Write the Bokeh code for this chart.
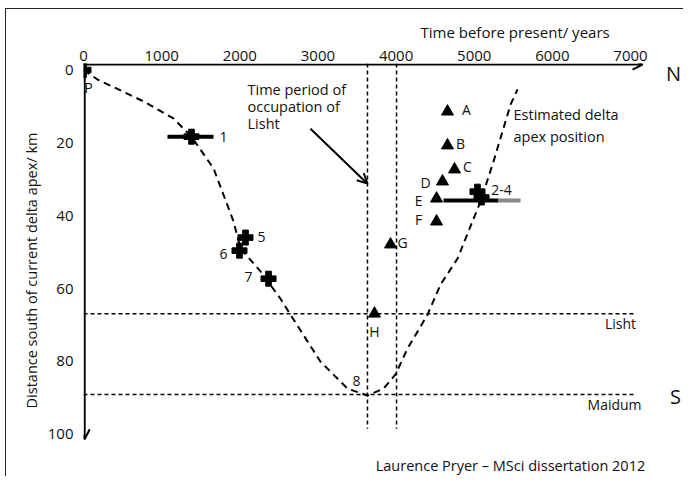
from bokeh.plotting import figure
from bokeh.models import Range1d, Arrow, OpenHead, Label, ColumnDataSource, FixedTicker, InlineStyleSheet
from bokeh.core.properties import value
from bokeh.embed import file_html
from bokeh.resources import INLINE

FONT = "Open Sans"
INK = "#111111"

# ---------------- data ----------------
x_ticks = [0, 1000, 2000, 3000, 4000, 5000, 6000, 7000]
y_ticks = [0, 20, 40, 60, 80, 100]

# estimated delta apex position (years BP, km south of current apex)
curve_years = [0, 179, 768, 1152, 1382, 1664, 1920, 2009, 2265, 2521, 2649, 3033,
               3379, 3634, 3839, 3993, 4146, 4402, 4569, 4786, 5081, 5247, 5465, 5554]
curve_km = [0, 2.6, 8.6, 13.3, 18.3, 27.0, 41.6, 49.0, 55.3, 62.8, 67.2, 80.1,
            87.5, 89.4, 87.5, 83.6, 76.5, 67.2, 58.9, 51.8, 36.1, 25.1, 9.5, 5.3]

# dated cores (crosses)
core_names = ["P", "1", "5", "6", "7", "2-4"]
core_years = [0, 1382, 2073, 1996, 2368, 5042]
core_km = [0, 18.3, 46.0, 49.6, 57.3, 33.4]
core_extra_years = [5093]
core_extra_km = [35.0]

# age ranges (error bars)
err_years_lo = [1075, 4607]
err_years_hi = [1664, 5311]
err_km = [18.3, 35.8]
err_uncertain_lo = [5311]
err_uncertain_hi = [5593]
err_uncertain_km = [35.8]

# archaeological sites (triangles)
site_names = ["A", "B", "C", "D", "E", "F", "G", "H"]
site_years = [4658, 4658, 4748, 4594, 4518, 4518, 3929, 3724]
site_km = [11.4, 20.7, 27.3, 30.6, 35.3, 41.6, 47.9, 66.9]

occupation_years = [3634, 4006]
lisht_km = 66.9
maidum_km = 89.1

# ---------------- figure ----------------
p = figure(width=678, height=468,
           x_range=Range1d(0, 7691), y_range=Range1d(111.9, -1.8),
           x_axis_location="above", toolbar_location=None, output_backend="svg",
           min_border_left=77, min_border_top=54, min_border_right=0, min_border_bottom=0,
           title="Time before present/ years")
p.outline_line_color = None
p.xgrid.visible = False
p.ygrid.visible = False
p.background_fill_color = "white"
p.border_fill_color = "white"
p.stylesheets = [InlineStyleSheet(css=":host { border-left: 1px solid #222; border-top: 1px solid #222; margin-left: 5px; margin-top: 8px; }")]

p.title.align = "left"
p.title.offset = 337
p.title.text_font = FONT
p.title.text_font_size = "15px"
p.title.text_font_style = "normal"
p.title.text_color = INK
p.title.standoff = 12

for ax in (p.xaxis, p.yaxis):
    ax.axis_line_color = None
    ax.major_tick_line_color = None
    ax.minor_tick_line_color = None
    ax.major_tick_out = 0
    ax.major_tick_in = 0
    ax.minor_tick_out = 0
    ax.minor_tick_in = 0
    ax.major_label_text_font = FONT
    ax.major_label_text_font_size = "15px"
    ax.major_label_text_color = INK

p.xaxis.ticker = FixedTicker(ticks=x_ticks)
p.yaxis.ticker = FixedTicker(ticks=y_ticks)
p.xaxis.major_label_standoff = 3
p.yaxis.major_label_standoff = 10
p.yaxis.axis_label = "Distance south of current delta apex/ km"
p.yaxis.axis_label_text_font = FONT
p.yaxis.axis_label_text_font_style = "normal"
p.yaxis.axis_label_text_font_size = "14.5px"
p.yaxis.axis_label_text_color = INK
p.yaxis.axis_label_standoff = 4

# axis arrows
p.add_layout(Arrow(x_start=0, y_start=-1.5, x_end=7154, y_end=-1.5, line_width=2,
                   line_color="black", end=OpenHead(size=10, line_width=2, line_color="black")))
p.add_layout(Arrow(x_start=15, y_start=-1.8, x_end=15, y_end=101.4, line_width=2,
                   line_color="black", end=OpenHead(size=10, line_width=2, line_color="black")))

# dashed reference lines
p.segment(x0=occupation_years, y0=[-1.8, -1.8], x1=occupation_years, y1=[98.5, 98.5],
          line_color="black", line_width=1.5, line_dash="4 3")
p.segment(x0=[0, 0], y0=[lisht_km, maidum_km], x1=[7040, 7040], y1=[lisht_km, maidum_km],
          line_color="black", line_width=1.5, line_dash="4 3")

# estimated delta apex curve
p.line(curve_years, curve_km, line_color="black", line_width=2, line_dash="7 5")

# error bars
p.segment(x0=err_years_lo, y0=err_km, x1=err_years_hi, y1=err_km, line_color="black", line_width=4)
p.segment(x0=err_uncertain_lo, y0=err_uncertain_km, x1=err_uncertain_hi, y1=err_uncertain_km,
          line_color="#888888", line_width=4)

# crosses
core_src = ColumnDataSource(dict(x=core_years, y=core_km, name=core_names,
                                 dx=[5, 32, 16, -16, -20, 24], dy=[17, 0, -1, 3, -2, -2]))
p.scatter("x", "y", source=core_src, marker="plus", size=15, color="black")
p.scatter(core_extra_years, core_extra_km, marker="plus", size=15, color="black")
p.text("x", "y", text="name", source=core_src, x_offset="dx", y_offset="dy",
       text_font=value(FONT), text_font_size="14px", text_align="center",
       text_baseline="middle", text_color=INK)

# triangles
site_src = ColumnDataSource(dict(x=site_years, y=site_km, name=site_names,
                                 dx=[19, 13, 13, -17, -18, -18, 12, 0],
                                 dy=[-2, -2, -3, 1, 2, -2, -2, 18]))
p.scatter("x", "y", source=site_src, marker="triangle", size=12, color="black")
p.text("x", "y", text="name", source=site_src, x_offset="dx", y_offset="dy",
       text_font=value(FONT), text_font_size="14px", text_align="center",
       text_baseline="middle", text_color=INK)

# annotations
def lab(x, y, text, size="14.5px", align="left"):
    p.add_layout(Label(x=x, y=y, text=text, text_font=FONT, text_font_size=size,
                       text_align=align, text_baseline="middle", text_color=INK))

lab(2099, 5.3, "Time period of")
lab(2099, 10.0, "occupation of")
lab(2099, 14.7, "Lisht")
lab(5503, 12.2, "Estimated delta")
lab(5503, 18.3, "apex position")
lab(3494, 85.3, "8", "14px", "center")
lab(6872, 69.6, "Lisht", "14px", "center")
lab(6796, 91.9, "Maidum", "14px", "center")
lab(7551, 0.9, "N", "20px", "center")
lab(7576, 89.7, "S", "20px", "center")
lab(5464, 108.6, "Laurence Pryer \u2013 MSci dissertation 2012", "14.5px", "center")

p.add_layout(Arrow(x_start=2905, y_start=16.1, x_end=3634, y_end=31.2, line_width=2,
                   line_color="black", end=OpenHead(size=10, line_width=2, line_color="black")))

open("out.html", "w").write(file_html(p, INLINE))
